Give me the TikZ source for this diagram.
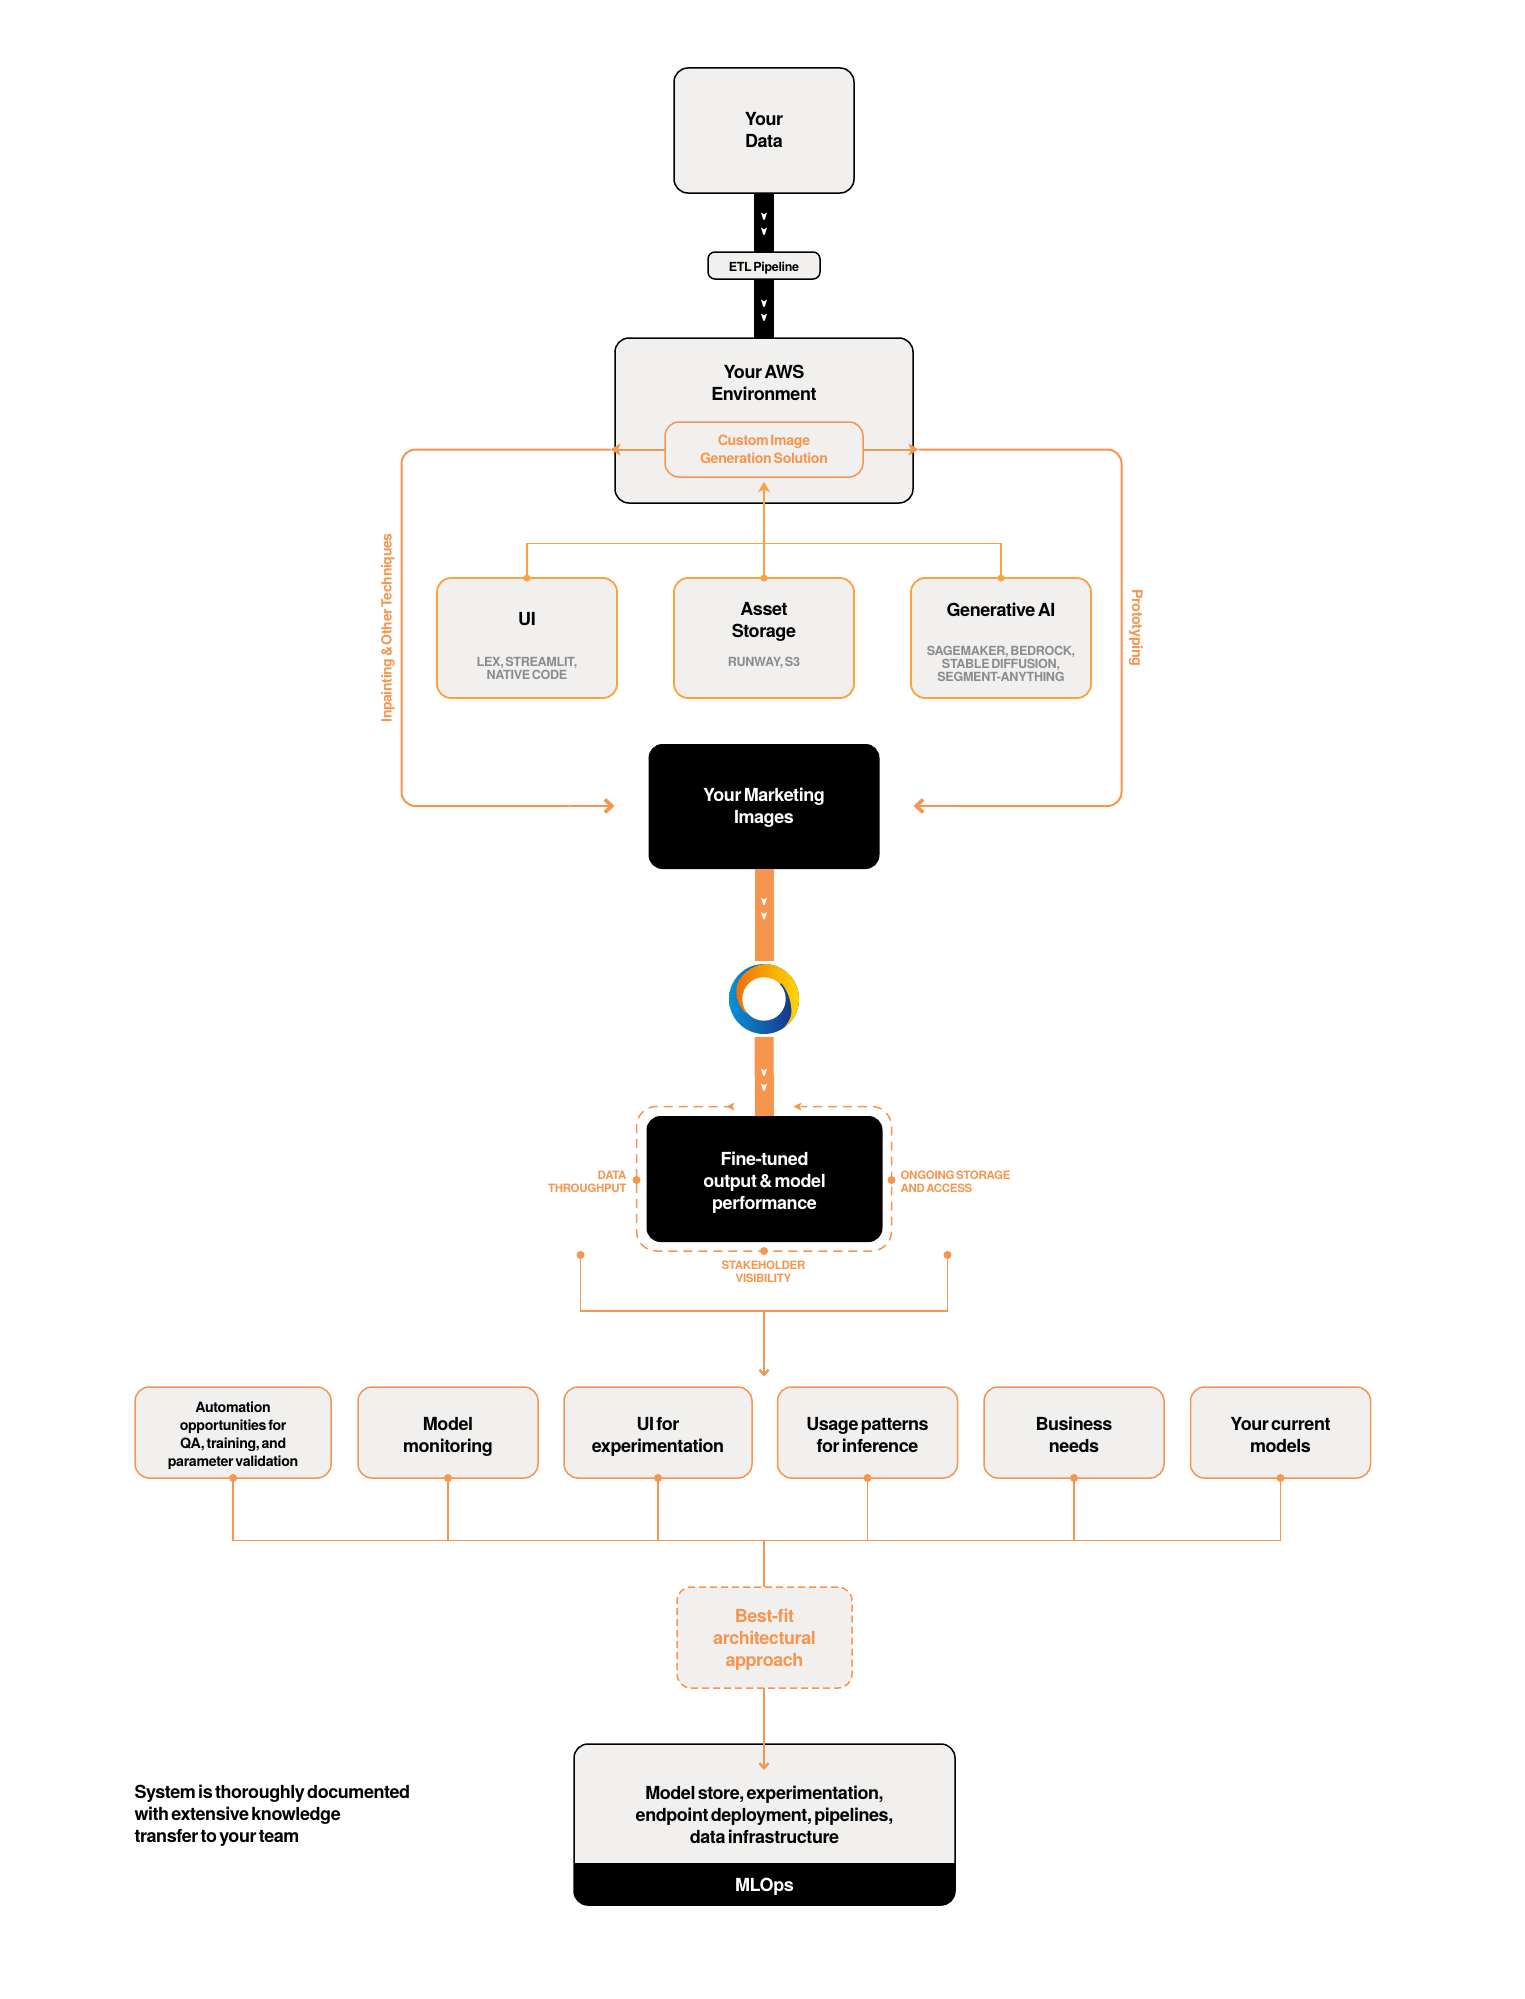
\documentclass[tikz,border=0pt]{standalone}
\usepackage{fontspec}
\usetikzlibrary{arrows.meta}
\setmainfont{TeX Gyre Heros}[BoldFont={TeX Gyre Heros Bold},BoldFeatures={WordSpace=0.5}]
\definecolor{fillg}{HTML}{F1F0EE}
\definecolor{org}{HTML}{F6954E}
\definecolor{amb}{HTML}{FBA23C}
\definecolor{grayt}{HTML}{8C8C8C}
\definecolor{ringa}{HTML}{0892D4}
\definecolor{ringb}{HTML}{182C82}
\definecolor{ringc}{HTML}{EE6E0A}
\definecolor{ringd}{HTML}{FFD800}
\newcommand{\fnt}[2]{\fontsize{#1}{#2}\selectfont\bfseries\addfontfeature{LetterSpace=-2.5}}
\newcommand{\dn}[1]{\rule{0pt}{\dimexpr\ht\strutbox+#1\relax}}
\tikzset{
 every node/.style={inner sep=0pt,outer sep=0pt,align=center},
 darkbox/.style={draw=black,line width=1.5pt,fill=fillg,rounded corners=14pt},
 orgbox/.style={draw=org,line width=1.5pt,fill=fillg,rounded corners=14pt},
 ambbox/.style={draw=amb,line width=1.8pt,fill=fillg,rounded corners=14pt},
 blackbox/.style={fill=black,text=white,rounded corners=14pt},
 struts/.style={execute at begin node={\rule{0pt}{\dimexpr\ht\strutbox+6pt\relax}},execute at end node=\strut},
 big/.style={font=\fnt{18}{22},struts},
 small/.style={font=\fnt{14.2}{18},struts},
 caps/.style={font=\fnt{11.5}{13},struts},
 graycaps/.style={font=\fnt{12.6}{13},struts,text=grayt},
 dotm/.style={fill,circle,minimum size=8pt},
 thin line/.style={draw=org,line width=1.5pt},
 loop line/.style={draw=org,line width=2pt},
 barb/.style={-{Straight Barb[length=7pt,width=13pt,line width=3.6pt]}},
 barbs/.style={-{Straight Barb[length=5pt,width=9pt,line width=2.4pt]}},
 tipS/.style={-{Stealth[length=10pt,width=12pt,inset=2.5pt]}},
 chev/.pic={\fill[white] (-3,-3.5)--(0,-1.5)--(3,-3.5)--(0.8,3.5)--(-0.8,3.5)--cycle;},
}
\begin{document}
\begin{tikzpicture}[x=1pt,y=-1pt]
\useasboundingbox[fill=white] (0.5,0) rectangle (1524.5,1999);
% top
\node[darkbox,big,minimum width=180pt,minimum height=125pt] (data) at (764.5,130.5) {\dn{3pt}Your\\Data};
\node[darkbox,minimum width=298pt,minimum height=165pt] (aws) at (764.5,420.5) {};
\node[darkbox,rounded corners=7pt,font=\fnt{12.5}{14},struts,minimum width=112pt,minimum height=27pt] (etl) at (764.5,265.5) {ETL Pipeline};
\draw[line width=20pt] (data.south) -- (etl.north);
\draw[line width=20pt] (etl.south) -- (aws.north);
\pic at (764.5,216) {chev}; \pic at (764.5,231) {chev};
\pic at (764.5,303) {chev}; \pic at (764.5,317) {chev};
\node[big] (awst) at (764.5,382) {\dn{5.5pt}Your AWS\\Environment};
\node[orgbox,text=org,small,minimum width=198pt,minimum height=55pt] (custom) at (764.5,449.5) {\dn{3.5pt}Custom Image\\Generation Solution};
% three boxes
\node[ambbox,minimum width=180pt,minimum height=120pt] (ui) at (527.5,638) {};
\node[ambbox,minimum width=180pt,minimum height=120pt] (asset) at (764.5,638) {};
\node[ambbox,minimum width=180pt,minimum height=120pt] (gen) at (1001.5,638) {};
\node[big] (uit) at (527.5,618) {UI};
\node[graycaps] (uis) at (527.5,667.5) {\dn{6pt}LEX, STREAMLIT,\\NATIVE CODE};
\node[big] (assett) at (764.5,620) {\dn{5pt}Asset\\Storage};
\node[graycaps] (assets) at (764.5,661) {RUNWAY, S3};
\node[big] (gent) at (1001.5,609.5) {Generative AI};
\node[graycaps] (gens) at (1001.5,663.5) {\dn{4pt}SAGEMAKER, BEDROCK,\\STABLE DIFFUSION,\\SEGMENT-ANYTHING};
\coordinate (atip) at (764.5,482);
\draw[draw=amb,line width=1.8pt,tipS] (asset.north) -- (atip);
\draw[draw=amb,line width=1.8pt] (ui.north) -- (527.5,543.5) -- (1001.5,543.5) -- (gen.north);
\fill[amb] (ui.north) circle (3.5pt) (asset.north) circle (3.5pt) (gen.north) circle (3.5pt);
% marketing
\node[blackbox,big,minimum width=231pt,minimum height=125pt] (mkt) at (764.5,806.5) {\dn{3pt}Your Marketing\\Images};
\coordinate (lend) at (615,806);
\coordinate (rend) at (914,806);
\coordinate (lmid) at (570,806);
\coordinate (rmid) at (960,806);
\coordinate (la) at (611,449.5);
\coordinate (ra) at (919,449.5);
\draw[loop line,rounded corners=14pt] (la) -- (402,449.5) -- (402,806) -- (lmid);
\draw[loop line,rounded corners=14pt] (ra) -- (1122,449.5) -- (1122,806) -- (rmid);
\draw[loop line,barb] (lmid) -- (lend);
\draw[loop line,barb] (rmid) -- (rend);
\draw[loop line,tipS] (custom.west) -- (la);
\draw[loop line,tipS] (custom.east) -- (ra);
\node[rotate=90,text=org,font=\fnt{14}{18}] (inp) at (388.5,628) {Inpainting \& Other Techniques};
\node[rotate=-90,text=org,font=\fnt{14.5}{18}] (proto) at (1136.5,628) {Prototyping};
% ring
\node[fill=white,circle,minimum size=76pt] (ring) at (764.5,999) {};
\node[blackbox,big,text=white,minimum width=236pt,minimum height=126pt] (fine) at (765,1179) {\dn{9pt}Fine-tuned\\output \& model\\performance};
\draw[line width=19pt,org] (mkt.south) -- (ring.north);
\draw[line width=19pt,org] (ring.south) -- (fine.north);
\pic at (764.5,901) {chev}; \pic at (764.5,915.5) {chev};
\pic at (764.5,1072) {chev}; \pic at (764.5,1087) {chev};
\begin{scope}[shift={(764.5,999)}]
 \shade[left color=ringa,right color=ringb] (0,0) circle (35pt);
 \shade[left color=ringc,right color=ringd]
  (-18,14) .. controls (-26,7) and (-29,-3) .. (-27.3,-12.7) .. controls (-25,-24) and (-12,-33.5) .. (0,-35)
  arc[start angle=90,end angle=-57.7,radius=35pt]
  .. controls (25,24) and (29,16) .. (27,7.3) .. controls (26,-2) and (22,-11) .. (17,-16) -- cycle;
 \fill[white] (0,0) circle (21.7pt);
\end{scope}
% dashed frame
\draw[thin line,dash pattern=on 9pt off 6pt,rounded corners=20pt] (733,1106.5) -- (637,1106.5) -- (637,1251) -- (892,1251) -- (892,1106.5) -- (801,1106.5);
\fill[org] (727,1106.5) -- (735,1102.5) -- (733,1106.5) -- (735,1110.5) -- cycle;
\fill[org] (794,1106.5) -- (802,1102.5) -- (800,1106.5) -- (802,1110.5) -- cycle;
\node[dotm,org] (d1) at (637,1180) {};
\node[dotm,org] (d2) at (892,1180) {};
\node[dotm,org] (d3) at (764.5,1251) {};
\node[caps,text=org,anchor=east,align=right] (t1) at (627,1181) {\dn{5pt}DATA\\THROUGHPUT};
\node[caps,text=org,anchor=west,align=left] (t2) at (901,1181) {\dn{5pt}ONGOING STORAGE\\AND ACCESS};
\node[caps,text=org] (t3) at (764,1272) {\dn{3pt}STAKEHOLDER\\VISIBILITY};
% bracket
\node[dotm,org,minimum size=8pt] (bl) at (581,1255) {};
\node[dotm,org,minimum size=8pt] (br) at (948,1255) {};
\coordinate (bm) at (764.5,1311);
\coordinate (bt) at (764.5,1376.5);
\draw[thin line] (bl) |- (bm) -| (br);
\draw[thin line,barbs] (bm) -- (bt);
% row
\node[orgbox,small,minimum width=196pt,minimum height=91pt] (b1) at (233.6,1432.5) {\dn{7pt}Automation\\opportunities for\\QA, training, and\\parameter validation};
\node[orgbox,big,minimum width=180pt,minimum height=91pt] (b2) at (448.5,1432.5) {\dn{9pt}Model\\monitoring};
\node[orgbox,big,minimum width=188pt,minimum height=91pt] (b3) at (658.5,1432.5) {\dn{9pt}UI for\\experimentation};
\node[orgbox,big,minimum width=180pt,minimum height=91pt] (b4) at (868,1432.5) {\dn{9pt}Usage patterns\\for inference};
\node[orgbox,big,minimum width=180pt,minimum height=91pt] (b5) at (1074.5,1432.5) {\dn{9pt}Business\\needs};
\node[orgbox,big,minimum width=180pt,minimum height=91pt] (b6) at (1281,1432.5) {\dn{9pt}Your current\\models};
\node[orgbox,dash pattern=on 7pt off 4pt,big,text=org,minimum width=175pt,minimum height=101pt] (best) at (765,1637.5) {\dn{5pt}Best-fit\\architectural\\approach};
\coordinate (hub) at (764.5,1540.7);
\draw[thin line] (b1.south) |- (hub) -| (b6.south);
\foreach \n in {b2,b3,b4,b5} \draw[thin line] (\n.south) -- (\n.south |- hub);
\draw[thin line] (hub) -- (best.north -| hub);
\foreach \n in {b1,b2,b3,b4,b5,b6} \fill[org] (\n.south) circle (4pt);
% mlops
\node[darkbox,minimum width=381pt,minimum height=161pt] (ml) at (765,1824.5) {};
\fill[black,rounded corners=14pt] (574.5,1863) [sharp corners] -- (574.5,1863) [rounded corners=14pt] -- (574.5,1905) -- (955.5,1905) [sharp corners] -- (955.5,1863) -- cycle;
\node[big] (mlt) at (765,1814.5) {\dn{5pt}Model store, experimentation,\\endpoint deployment, pipelines,\\data infrastructure};
\node[big,text=white] (mlb) at (765,1884.5) {MLOps};
\coordinate (mtip) at (764.5,1770);
\draw[thin line,barbs] (best.south -| mtip) -- (mtip);
\node[big,anchor=west,align=left] (doc) at (135,1814.5) {\dn{3.5pt}System is thoroughly documented\\with extensive knowledge\\transfer to your team};
\end{tikzpicture}
\end{document}
